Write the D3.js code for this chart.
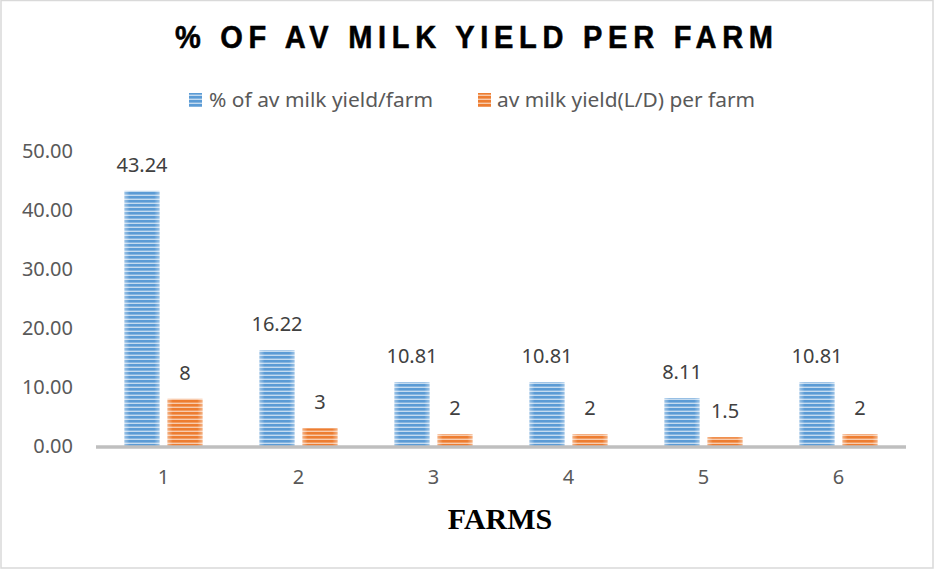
<!DOCTYPE html>
<html>
<head>
<meta charset="utf-8">
<script src="https://cdn.jsdelivr.net/npm/d3@7"></script>
<style>
  html, body { margin: 0; padding: 0; background: #fff; }
  svg { display: block; }
</style>
</head>
<body>
<div id="chart"></div>
<script>
// Farm categories and the two measured series
const farms = ["1", "2", "3", "4", "5", "6"];
const pctMilkYield = [43.24, 16.22, 10.81, 10.81, 8.11, 10.81];
const avMilkYield = [8, 3, 2, 2, 1.5, 2];
const seriesNames = ["% of av milk yield/farm", "av milk yield(L/D) per farm"];
const yTicks = [0, 10, 20, 30, 40, 50];

const W = 934, H = 569;
const svg = d3.select("#chart").append("svg")
  .attr("width", W).attr("height", H)
  .style("font-family", "'Noto Sans', 'Open Sans', sans-serif");

// Striped fills for the bars
const defs = svg.append("defs");
function stripes(id, dark, light) {
  const p = defs.append("pattern")
    .attr("id", id).attr("patternUnits", "userSpaceOnUse")
    .attr("width", 8).attr("height", 4);
  p.append("rect").attr("width", 8).attr("height", 4).attr("fill", light);
  p.append("rect").attr("width", 8).attr("height", 2.6).attr("fill", dark);
}
stripes("stripeBlue", "#5b9bd5", "#c4dbf0");
stripes("stripeOrange", "#ed7d31", "#f8cbad");
const glow = defs.append("linearGradient").attr("id", "edgeGlow")
  .attr("x1", 0).attr("x2", 1).attr("y1", 0).attr("y2", 0);
glow.append("stop").attr("offset", "0%").attr("stop-color", "#fff").attr("stop-opacity", 0.4);
glow.append("stop").attr("offset", "15%").attr("stop-color", "#fff").attr("stop-opacity", 0);
glow.append("stop").attr("offset", "85%").attr("stop-color", "#fff").attr("stop-opacity", 0);
glow.append("stop").attr("offset", "100%").attr("stop-color", "#fff").attr("stop-opacity", 0.4);

// Chart frame
svg.append("rect").attr("x", 1).attr("y", 0.5).attr("width", W - 2).attr("height", H - 1.5)
  .attr("fill", "none").attr("stroke", "#d9d9d9").attr("stroke-width", 1.5);

// Scales
const x = d3.scaleBand().domain(farms).range([96, 906])
  .paddingInner(0.422).paddingOuter(0.211);
const xs = d3.scaleBand().domain([0, 1]).range([0, x.bandwidth()])
  .paddingInner(0.186).paddingOuter(0);
const y = d3.scaleLinear().domain([0, 50]).range([446, 151]);

// Title (slightly tall letterforms)
svg.append("g").attr("transform", "translate(474,48.3) scale(1,1.1)")
  .append("text")
  .attr("x", 0).attr("y", 0)
  .attr("text-anchor", "middle")
  .attr("textLength", 598).attr("lengthAdjust", "spacing")
  .style("font-family", "'Liberation Sans', Arial, sans-serif")
  .style("font-weight", "bold").style("font-size", "29px")
  .attr("fill", "#000").attr("stroke", "#000").attr("stroke-width", 0.5)
  .text("% OF AV MILK YIELD PER FARM");

// Legend
const legendItems = [
  { name: seriesNames[0], fill: "url(#stripeBlue)", sx: 189, tx: 209, tw: 224 },
  { name: seriesNames[1], fill: "url(#stripeOrange)", sx: 478, tx: 497, tw: 258 }
];
const lg = svg.append("g");
legendItems.forEach(d => {
  lg.append("rect").attr("x", d.sx).attr("y", 93).attr("width", 13).attr("height", 14).attr("fill", d.fill);
  lg.append("text").attr("x", d.tx).attr("y", 107)
    .attr("textLength", d.tw).attr("lengthAdjust", "spacingAndGlyphs")
    .style("font-size", "19px").attr("fill", "#595959").text(d.name);
});

// Y axis labels
const yAxis = d3.axisLeft(y).tickValues(yTicks).tickFormat(d3.format(".2f")).tickSize(0).tickPadding(0);
const ya = svg.append("g").attr("transform", "translate(73,0)").call(yAxis);
ya.select(".domain").remove();
ya.selectAll("text").style("font-size", "20px").style("font-family", "'Noto Sans', sans-serif").attr("fill", "#595959");

// X axis labels
const xAxis = d3.axisBottom(x).tickSize(0).tickPadding(0);
const xa = svg.append("g").attr("transform", "translate(0,470)").call(xAxis);
xa.select(".domain").remove();
xa.selectAll("text").style("font-size", "20px").style("font-family", "'Noto Sans', sans-serif").attr("fill", "#595959");

// Bars
const rows = farms.map((f, i) => ({ farm: f, vals: [pctMilkYield[i], avMilkYield[i]] }));
const fills = ["url(#stripeBlue)", "url(#stripeOrange)"];
const labelFmt = [d3.format(".2f"), v => String(v)];
const groups = svg.append("g").selectAll("g").data(rows).join("g")
  .attr("transform", d => `translate(${x(d.farm)},0)`);
groups.selectAll("rect.bar").data(d => d.vals.map((v, k) => ({ v, k }))).join("rect")
  .attr("class", "bar")
  .attr("x", d => xs(d.k)).attr("width", xs.bandwidth())
  .attr("y", d => y(d.v)).attr("height", d => y(0) - y(d.v))
  .attr("fill", d => fills[d.k]);
groups.selectAll("rect.glow").data(d => d.vals.map((v, k) => ({ v, k }))).join("rect")
  .attr("class", "glow")
  .attr("x", d => xs(d.k)).attr("width", xs.bandwidth())
  .attr("y", d => y(d.v)).attr("height", d => y(0) - y(d.v))
  .attr("fill", "url(#edgeGlow)");
groups.selectAll("text").data(d => d.vals.map((v, k) => ({ v, k }))).join("text")
  .attr("x", d => xs(d.k) + xs.bandwidth() / 2)
  .attr("y", d => y(d.v) - 19)
  .attr("text-anchor", "middle")
  .style("font-size", "20px").attr("fill", "#404040")
  .text(d => labelFmt[d.k](d.v));

// Baseline
svg.append("line").attr("x1", 96).attr("x2", 906).attr("y1", 447).attr("y2", 447)
  .attr("stroke", "#bfbfbf").attr("stroke-width", 3.5);

// X axis title
svg.append("text").attr("x", 500).attr("y", 529).attr("text-anchor", "middle")
  .style("font-family", "'Liberation Serif', 'Times New Roman', serif")
  .style("font-weight", "bold").style("font-size", "30px").attr("fill", "#000")
  .text("FARMS");
</script>
</body>
</html>
